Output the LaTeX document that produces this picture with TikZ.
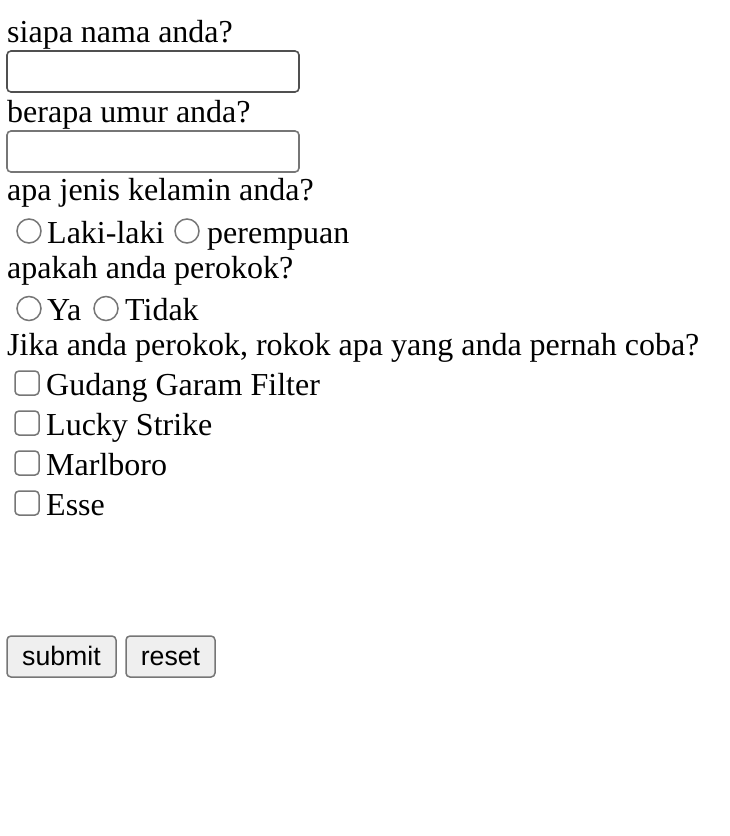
\documentclass[tikz,border=0pt]{standalone}
\usepackage{fontspec}
\setmainfont{Liberation Serif}
\newfontfamily\btnfont{Liberation Sans}
\definecolor{boxdark}{RGB}{80,80,80}
\definecolor{ctrlgray}{RGB}{118,118,118}
\definecolor{btnfill}{RGB}{239,239,239}
\begin{document}
\begin{tikzpicture}[x=1pt,y=-1pt,
  lbl/.style={anchor=base west,inner sep=0pt,font=\fontsize{32}{38}\selectfont},
  inputbox/.style={draw=ctrlgray,line width=1.6pt,rounded corners=4pt},
  radiobtn/.style={circle,draw=ctrlgray,line width=1.5pt,minimum size=24pt,inner sep=0pt},
  checkbx/.style={draw=ctrlgray,line width=1.5pt,rounded corners=4pt,minimum size=24pt,inner sep=0pt},
  btn/.style={draw=ctrlgray,fill=btnfill,line width=1.5pt,rounded corners=4pt,inner sep=0pt,minimum height=41pt},
  btntext/.style={anchor=base,inner sep=0pt,font=\btnfont\fontsize{26.67}{32}\selectfont}
]
\useasboundingbox[fill=white] (0,0) rectangle (730,836);
% question 1
\node[lbl] (q1) at (7,42) {siapa nama anda?};
\draw[inputbox,draw=boxdark] (7,51) rectangle (299,92);
% question 2
\node[lbl] (q2) at (7,122) {berapa umur anda?};
\draw[inputbox] (7,131) rectangle (299,172);
% question 3
\node[lbl] (q3) at (7,200.5) {apa jenis kelamin anda?};
\node[radiobtn] (r1) at (29,231) {};
\node[lbl] (t1) at (47,243) {Laki-laki};
\node[radiobtn] (r2) at (187,231) {};
\node[lbl] (t2) at (207,243) {perempuan};
% question 4
\node[lbl] (q4) at (7,278) {apakah anda perokok?};
\node[radiobtn] (r3) at (29,308.5) {};
\node[lbl] (t3) at (47,320) {Ya};
\node[radiobtn] (r4) at (106,308.5) {};
\node[lbl] (t4) at (125,320) {Tidak};
% question 5
\node[lbl] (q5) at (7,355.5) {Jika anda perokok, rokok apa yang anda pernah coba?};
\node[checkbx] (c1) at (27,383) {};
\node[lbl] (k1) at (46,395.5) {Gudang Garam Filter};
\node[checkbx] (c2) at (27,423) {};
\node[lbl] (k2) at (46,435.5) {Lucky Strike};
\node[checkbx] (c3) at (27,463) {};
\node[lbl] (k3) at (46,475.5) {Marlboro};
\node[checkbx] (c4) at (27,503) {};
\node[lbl] (k4) at (46,515.5) {Esse};
% buttons
\node[btn,minimum width=109pt] (submit) at (61.5,656.5) {};
\node[btntext] (submitlbl) at (61.5,665) {submit};
\node[btn,minimum width=89pt] (reset) at (170.5,656.5) {};
\node[btntext] (resetlbl) at (170.5,665) {reset};
\end{tikzpicture}
\end{document}
